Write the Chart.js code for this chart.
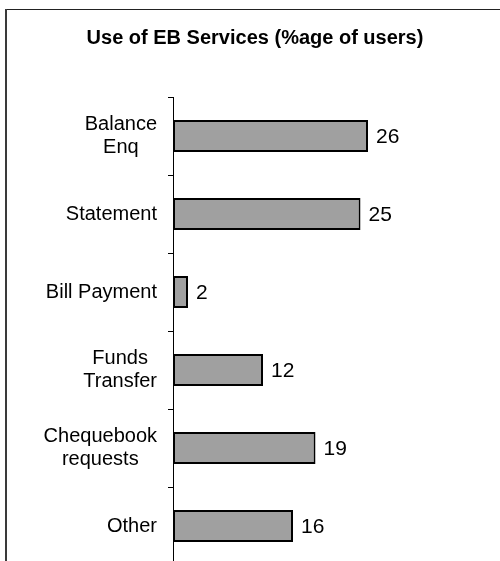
<!DOCTYPE html>
<html>
<head>
<meta charset="utf-8">
<script src="https://cdn.jsdelivr.net/npm/chart.js@4/dist/chart.umd.min.js"></script>
<style>
  html, body { margin: 0; padding: 0; background: #fff; overflow: hidden; }
  canvas { display: block; }
</style>
</head>
<body>
<canvas id="ebChart" width="500" height="580"></canvas>
<script>
// data
const categories = [['Balance', 'Enq'], 'Statement', 'Bill Payment', ['Funds', 'Transfer'], ['Chequebook', 'requests'], 'Other'];
const usage = [26, 25, 2, 12, 19, 16];
const chartTitle = 'Use of EB Services (%age of users)';

const FONT = '"Liberation Sans", Arial, sans-serif';

// outer frame of the original picture (runs off right and bottom)
const framePlugin = {
  id: 'frame',
  beforeDraw: function(chart){
    var ctx = chart.ctx;
    ctx.save();
    ctx.strokeStyle = '#222';
    ctx.lineWidth = 1;
    ctx.beginPath();
    ctx.moveTo(6, 9.5);
    ctx.lineTo(chart.width, 9.5);
    ctx.stroke();
    ctx.lineWidth = 2;
    ctx.strokeStyle = '#3a3a3a';
    ctx.beginPath();
    ctx.moveTo(6, 9);
    ctx.lineTo(6, chart.height);
    ctx.stroke();
    ctx.restore();
  }
};

// category names: right aligned block, lines centred with each other
const catLabels = {
  id: 'catLabels',
  afterDraw: function(chart){
    var ctx = chart.ctx;
    var yScale = chart.scales.y;
    ctx.save();
    ctx.font = '20px ' + FONT;
    ctx.fillStyle = '#000';
    ctx.textAlign = 'center';
    ctx.textBaseline = 'middle';
    categories.forEach(function(lab, i){
      var lines = Array.isArray(lab) ? lab : [lab];
      var maxW = 0;
      lines.forEach(function(l){ maxW = Math.max(maxW, ctx.measureText(l).width); });
      var cx = yScale.right - 16 - maxW / 2;
      var y = yScale.getPixelForValue(i);
      lines.forEach(function(l, j){
        ctx.fillText(l, cx, y + (j - (lines.length - 1) / 2) * 23);
      });
    });
    ctx.restore();
  }
};

// value at the end of each bar
const valueLabels = {
  id: 'valueLabels',
  afterDatasetsDraw: function(chart){
    var ctx = chart.ctx;
    var meta = chart.getDatasetMeta(0);
    ctx.save();
    ctx.font = '21px ' + FONT;
    ctx.fillStyle = '#000';
    ctx.textAlign = 'left';
    ctx.textBaseline = 'middle';
    meta.data.forEach(function(bar, i){
      ctx.fillText(String(usage[i]), bar.x + 8, bar.y + 1);
    });
    ctx.restore();
  }
};

var ctx = document.getElementById('ebChart').getContext('2d');
var myChart = new Chart(ctx, {
  type: 'bar',
  plugins: [framePlugin, catLabels, valueLabels],
  data: {
    labels: categories,
    datasets: [{
      data: usage,
      backgroundColor: '#a0a0a0',
      borderColor: '#000',
      borderWidth: 2,
      borderSkipped: false,
      barPercentage: 0.41,
      categoryPercentage: 1
    }]
  },
  options: {
    indexAxis: 'y',
    responsive: false,
    animation: false,
    layout: {
      padding: { top: 0, left: 37, right: 27, bottom: 15 }
    },
    scales: {
      x: {
        display: false,
        min: 0,
        max: 40
      },
      y: {
        type: 'category',
        offset: true,
        grid: {
          offset: true,
          drawOnChartArea: false,
          drawTicks: true,
          tickLength: 5,
          color: '#000',
          lineWidth: 1
        },
        border: { display: true, color: '#000', width: 1 },
        ticks: { display: false },
        afterFit: function(scale){ scale.width = 136; }
      }
    },
    plugins: {
      legend: { display: false },
      tooltip: { enabled: false },
      title: {
        display: true,
        text: chartTitle,
        color: '#000',
        font: { family: FONT, size: 20, weight: 'bold', lineHeight: 1.2 },
        padding: { top: 26, bottom: 47 }
      }
    }
  }
});
</script>
</body>
</html>
